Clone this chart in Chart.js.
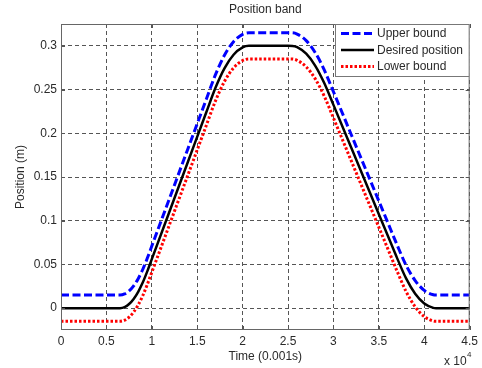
<!DOCTYPE html>
<html lang="en">
<head>
    <meta charset="UTF-8">
    <title>Position band</title>
    <style>
        html, body { margin: 0; padding: 0; background: #fff; }
        #wrap { width: 482px; height: 368px; }
    </style>
</head>
<body>
    <div id="wrap"><canvas id="myChart" width="482" height="368"></canvas></div>

    <script src="https://cdn.jsdelivr.net/npm/chart.js@4.4.0/dist/chart.umd.min.js"></script>
    <script>
        // time axis in units of 10^4 x 0.001s
        var time = [0, 0.6, 0.65, 0.7, 0.75, 0.8, 0.85, 0.9, 0.95, 1.0, 1.2, 1.4, 1.6, 1.7, 1.8, 1.9, 2.0, 2.07,
                    2.5, 2.55, 2.6, 2.7, 2.8, 2.9, 3.0, 3.2, 3.4, 3.6, 3.7, 3.8, 3.9, 4.0, 4.1, 4.13, 4.5];
        var desired = [0, 0, 0, 0.0012, 0.0047, 0.0105, 0.0187, 0.0292, 0.042, 0.056, 0.112, 0.168, 0.224, 0.2518, 0.2743, 0.2898, 0.2982, 0.3,
                       0.3, 0.2999, 0.2985, 0.291, 0.2772, 0.2572, 0.2325, 0.1825, 0.1325, 0.0825, 0.0575, 0.034, 0.0165, 0.0053, 0.0003, 0, 0];
        var upper = [0.015, 0.015, 0.015, 0.0162, 0.0197, 0.0255, 0.0337, 0.0442, 0.057, 0.071, 0.127, 0.183, 0.239, 0.2668, 0.2893, 0.3048, 0.3132, 0.315,
                     0.315, 0.3149, 0.3135, 0.306, 0.2922, 0.2722, 0.2475, 0.1975, 0.1475, 0.0975, 0.0725, 0.049, 0.0315, 0.0203, 0.0153, 0.015, 0.015];
        var lower = [-0.015, -0.015, -0.015, -0.0138, -0.0103, -0.0045, 0.0037, 0.0142, 0.027, 0.041, 0.097, 0.153, 0.209, 0.2368, 0.2593, 0.2748, 0.2832, 0.285,
                     0.285, 0.2849, 0.2835, 0.276, 0.2622, 0.2422, 0.2175, 0.1675, 0.1175, 0.0675, 0.0425, 0.019, 0.0015, -0.0097, -0.0147, -0.015, -0.015];

        var xTicks = [0, 0.5, 1, 1.5, 2, 2.5, 3, 3.5, 4, 4.5];
        var yTicks = [0, 0.05, 0.1, 0.15, 0.2, 0.25, 0.3];

        var FONT = '"Liberation Sans", Arial, sans-serif';
        var TEXT = '#2a2a2a';

        function pts(ys) {
            return time.map(function (t, i) { return { x: t, y: ys[i] }; });
        }

        function fmt(v) {
            return String(Number(v.toFixed(3)));
        }

        // box, inward ticks, legend and the x10^4 multiplier
        var matlabBits = {
            id: 'matlabBits',
            afterDraw: function (chart) {
                var c = chart.ctx;
                var a = chart.chartArea;
                var xs = chart.scales.x, ys = chart.scales.y;
                c.save();
                c.setLineDash([]);
                c.strokeStyle = '#555';
                c.lineWidth = 1;

                // inward ticks
                c.beginPath();
                xTicks.forEach(function (v) {
                    var px = Math.round(xs.getPixelForValue(v)) + 0.5;
                    c.moveTo(px, a.bottom); c.lineTo(px, a.bottom - 4);
                    c.moveTo(px, a.top); c.lineTo(px, a.top + 4);
                });
                yTicks.forEach(function (v) {
                    var py = Math.round(ys.getPixelForValue(v)) + 0.5;
                    c.moveTo(a.left, py); c.lineTo(a.left + 4, py);
                    c.moveTo(a.right, py); c.lineTo(a.right - 4, py);
                });
                c.stroke();

                c.strokeStyle = '#666';
                c.strokeRect(a.left + 0.5, a.top + 0.5, a.right - a.left - 1, a.bottom - a.top - 1);

                // legend box in the upper right corner
                var lx = 335, ly = a.top, lw = a.right - lx, lh = 53;
                c.fillStyle = '#fff';
                c.fillRect(lx, ly, lw, lh);
                c.strokeStyle = '#777';
                c.strokeRect(lx + 0.5, ly + 0.5, lw - 1, lh - 1);

                c.font = '12px ' + FONT;
                c.textAlign = 'left';
                c.textBaseline = 'middle';
                chart.data.datasets.forEach(function (ds, i) {
                    var yy = ly + 9.5 + i * 16.5;
                    c.strokeStyle = ds.borderColor;
                    c.lineWidth = ds.borderWidth;
                    c.setLineDash(ds.borderDash || []);
                    c.beginPath();
                    c.moveTo(341, yy); c.lineTo(374, yy);
                    c.stroke();
                    c.setLineDash([]);
                    c.fillStyle = TEXT;
                    c.fillText(ds.label, 377, yy + 0.5);
                });

                // x 10^4
                c.fillStyle = TEXT;
                c.textBaseline = 'alphabetic';
                c.font = '12px ' + FONT;
                c.fillText('x 10', 444, 365);
                c.font = '8px ' + FONT;
                c.fillText('4', 467, 357);
                c.restore();
            }
        };

        function createChart() {
            var ctx = document.getElementById('myChart').getContext('2d');
            new Chart(ctx, {
                type: 'line',
                data: {
                    datasets: [
                        {
                            label: 'Upper bound',
                            data: pts(upper),
                            borderColor: '#0000ff',
                            borderWidth: 3,
                            borderDash: [8, 3.5],
                            order: 2
                        },
                        {
                            label: 'Desired position',
                            data: pts(desired),
                            borderColor: '#000000',
                            borderWidth: 2.5,
                            order: 1
                        },
                        {
                            label: 'Lower bound',
                            data: pts(lower),
                            borderColor: '#ff0000',
                            borderWidth: 3,
                            borderDash: [2.5, 2],
                            order: 3
                        }
                    ]
                },
                options: {
                    responsive: false,
                    animation: false,
                    layout: { padding: { left: 0, right: 10, top: 0, bottom: 0 } },
                    elements: {
                        point: { radius: 0, hoverRadius: 0 },
                        line: { cubicInterpolationMode: 'monotone', fill: false, borderCapStyle: 'butt' }
                    },
                    plugins: {
                        legend: { display: false },
                        tooltip: { enabled: false },
                        title: {
                            display: true,
                            text: 'Position band',
                            fullSize: false,
                            color: TEXT,
                            font: { family: FONT, size: 12, weight: 'normal' },
                            padding: { top: 2, bottom: 7.6 }
                        }
                    },
                    scales: {
                        x: {
                            type: 'linear',
                            min: 0,
                            max: 4.5,
                            afterBuildTicks: function (s) { s.ticks = xTicks.map(function (v) { return { value: v }; }); },
                            afterFit: function (s) { s.height = 38; },
                            grid: { color: '#555', lineWidth: 1, drawTicks: false },
                            border: { display: false, dash: [4, 3] },
                            ticks: {
                                padding: 4,
                                color: TEXT,
                                maxRotation: 0,
                                autoSkip: false,
                                font: { family: FONT, size: 12 },
                                callback: function (v) { return fmt(v); }
                            },
                            title: {
                                display: true,
                                text: 'Time (0.001s)',
                                color: TEXT,
                                font: { family: FONT, size: 12 },
                                padding: { top: 2, bottom: 4 }
                            }
                        },
                        y: {
                            type: 'linear',
                            min: -0.025,
                            max: 0.325,
                            afterBuildTicks: function (s) { s.ticks = yTicks.map(function (v) { return { value: v }; }); },
                            afterFit: function (s) { s.width = 61; },
                            grid: { color: '#555', lineWidth: 1, drawTicks: false },
                            border: { display: false, dash: [4, 3] },
                            ticks: {
                                padding: 4,
                                color: TEXT,
                                font: { family: FONT, size: 12 },
                                callback: function (v) { return fmt(v); }
                            },
                            title: {
                                display: true,
                                text: 'Position (m)',
                                color: TEXT,
                                font: { family: FONT, size: 12 },
                                padding: { top: 13, bottom: 0 }
                            }
                        }
                    }
                },
                plugins: [matlabBits]
            });
        }
        createChart();
    </script>
</body>
</html>
